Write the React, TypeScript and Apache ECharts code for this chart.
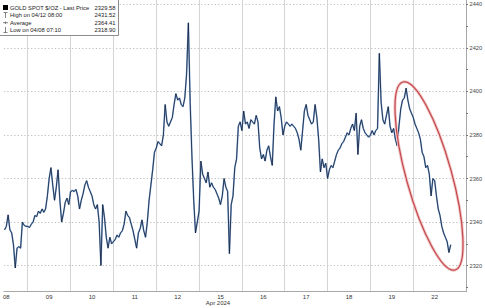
import React, { useEffect, useRef } from "react";
import * as echarts from "echarts";

// ---- data ----
const DAY_LABELS = ["08", "09", "10", "11", "12", "15", "16", "17", "18", "19", "22"];
const SAMPLES_PER_DAY = 24;
// first visible sample of each day (04/08 starts part-way into the window)
const DAY_FIRST_SAMPLE = [11, 0, 0, 0, 0, 0, 0, 0, 0, 0, 0];

const day08 = [2336.4, 2338, 2343.3, 2336.4, 2335, 2329.5, 2318.9, 2328, 2328.7, 2328, 2340, 2338.5, 2338];
const day09 = [2338, 2337.5, 2339, 2340, 2343, 2342.5, 2345, 2344, 2346, 2344.5, 2346, 2352, 2360, 2365, 2357, 2350, 2356, 2364, 2350, 2340, 2344, 2349, 2351, 2348];
const day10 = [2354, 2354.5, 2354, 2355, 2352, 2346, 2350, 2353, 2357, 2359, 2356, 2354, 2352, 2348, 2346, 2348, 2340, 2320, 2348, 2342, 2333, 2328, 2333, 2330];
const day11 = [2331, 2332, 2334, 2333, 2335, 2336, 2339, 2345, 2343, 2342, 2339, 2336, 2332, 2328, 2335, 2337, 2341, 2336, 2333, 2340, 2350, 2357, 2364, 2372];
const day12 = [2374, 2377, 2376, 2375, 2380, 2394, 2386, 2384, 2386, 2388, 2394, 2399, 2396, 2397, 2394, 2393, 2397, 2408, 2431.52, 2395, 2370, 2350, 2335, 2340];
const day15 = [2345, 2368, 2362, 2360, 2358, 2363, 2356, 2358, 2356, 2355, 2353, 2351, 2348, 2352, 2360, 2356, 2354, 2325.5, 2348, 2352, 2365, 2369, 2384, 2386];
const day16 = [2382, 2391, 2385, 2386, 2383, 2387, 2386, 2385, 2389, 2386, 2374, 2369, 2371, 2368, 2373, 2375, 2370, 2366, 2385, 2397.5, 2391, 2393, 2388, 2380];
const day17 = [2384, 2386, 2385, 2384, 2385, 2384, 2383, 2381, 2378, 2373, 2382, 2391, 2394, 2389, 2387, 2385, 2386, 2394, 2388, 2378, 2363, 2369, 2365, 2367];
const day18 = [2360, 2364, 2366, 2365, 2368, 2371, 2373, 2374, 2376, 2377, 2379, 2381, 2380, 2383, 2385, 2382, 2390, 2371, 2384, 2387, 2383, 2381, 2380, 2379];
const day19 = [2380, 2382, 2380, 2382, 2383, 2417.5, 2395, 2387, 2385, 2389, 2393, 2384, 2381, 2383, 2378, 2375, 2384, 2392, 2396, 2397, 2401.5, 2396, 2392, 2390];
const day22 = [2388, 2385, 2383, 2381, 2378, 2372, 2370, 2365, 2366, 2362, 2352, 2360, 2359, 2352, 2346, 2343, 2338, 2335, 2333, 2331, 2326, 2329.58];
const DAY_VALUES = [day08, day09, day10, day11, day12, day15, day16, day17, day18, day19, day22];

const Y_TICKS = [2310, 2320, 2330, 2340, 2350, 2360, 2370, 2380, 2390, 2400, 2410, 2420, 2430, 2440];
const Y_LABELS = [2320, 2340, 2360, 2380, 2400, 2420, 2440];
const Y_MIN = 2308;
const Y_MAX = 2442;
const X_MIN = 0.445;
const X_MAX = 11.233;

const LEGEND_LABELS = ["GOLD SPOT $/OZ - Last Price", "High on 04/12 08:00", "Average", "Low on 04/08 07:10"];
const LEGEND_VALUES = ["2329.58", "2431.52", "2364.41", "2318.90"];
const LAST_PRICE = 2329.58;
const LAST_TAG = "2329";
const AXIS_TITLE = "Apr 2024";

const FONT = "Liberation Sans";

export default function App() {
  const ref = useRef<HTMLDivElement>(null);
  useEffect(() => {
    if (!ref.current) return;
    const chart = echarts.init(ref.current, null, { renderer: "svg" });

    const data: number[][] = [];
    DAY_VALUES.forEach((vals, k) => {
      vals.forEach((v, i) => {
        data.push([k + (DAY_FIRST_SAMPLE[k] + i) / SAMPLES_PER_DAY, v]);
      });
    });

    const dayBounds = DAY_LABELS.slice(1).map((_, i) => i + 1);
    const dayCenters = DAY_LABELS.map((_, k) => k + 0.5);

    const rowY = [7.5, 15.2, 22.7, 30.2];
    const legendEls: any[] = [
      {
        type: "rect",
        z: 100,
        shape: { x: -1, y: -1, width: 119.5, height: 36.5 },
        style: { fill: "#fff", stroke: "#8c8c8c", lineWidth: 1 },
      },
      { type: "rect", z: 101, shape: { x: 3, y: 5, width: 5, height: 5 }, style: { fill: "#000" } },
      // high icon
      { type: "line", z: 101, shape: { x1: 3.5, y1: 12.5, x2: 7.5, y2: 12.5 }, style: { stroke: "#666", lineWidth: 0.8 } },
      { type: "line", z: 101, shape: { x1: 5.5, y1: 12.5, x2: 5.5, y2: 18 }, style: { stroke: "#666", lineWidth: 0.8 } },
      // average icon
      { type: "line", z: 101, shape: { x1: 3, y1: 22.7, x2: 8, y2: 22.7 }, style: { stroke: "#666", lineWidth: 0.8 } },
      { type: "line", z: 101, shape: { x1: 5.5, y1: 21.5, x2: 5.5, y2: 24 }, style: { stroke: "#666", lineWidth: 0.8 } },
      // low icon
      { type: "line", z: 101, shape: { x1: 5.5, y1: 27, x2: 5.5, y2: 32.5 }, style: { stroke: "#666", lineWidth: 0.8 } },
      { type: "line", z: 101, shape: { x1: 3.5, y1: 32.5, x2: 7.5, y2: 32.5 }, style: { stroke: "#666", lineWidth: 0.8 } },
    ];
    LEGEND_LABELS.forEach((t, i) => {
      legendEls.push({
        type: "text",
        z: 101,
        x: 10,
        y: rowY[i],
        style: {
          text: t,
          fontSize: 5.8,
          fontFamily: FONT,
          fill: "#1a1a1a",
          align: "left",
          textAlign: "left",
          verticalAlign: "middle",
          textVerticalAlign: "middle",
        },
      });
      legendEls.push({
        type: "text",
        z: 101,
        x: 115.5,
        y: rowY[i],
        style: {
          text: LEGEND_VALUES[i],
          fontSize: 5.8,
          fontFamily: FONT,
          fill: "#1a1a1a",
          align: "right",
          textAlign: "right",
          verticalAlign: "middle",
          textVerticalAlign: "middle",
        },
      });
    });

    chart.setOption({
      animation: false,
      backgroundColor: "#ffffff",
      grid: { left: 0, right: 18.3, top: 0, bottom: 16.3 },
      xAxis: {
        type: "value",
        min: X_MIN,
        max: X_MAX,
        axisLine: { show: true, lineStyle: { color: "#a8a8a8", width: 1 } },
        axisTick: { show: false, customValues: dayBounds },
        splitLine: { show: true, lineStyle: { color: "#d4d4d4", width: 1 } },
        axisLabel: {
          customValues: dayCenters,
          formatter: (v: number) => DAY_LABELS[Math.floor(v)] ?? "",
          fontSize: 6,
          fontFamily: FONT,
          color: "#333",
          margin: 2,
        },
      },
      yAxis: [
        {
          type: "value",
          position: "right",
          min: Y_MIN,
          max: Y_MAX,
          axisLine: { show: true, lineStyle: { color: "#a8a8a8", width: 1 } },
          axisTick: { show: true, customValues: Y_TICKS, length: 2, lineStyle: { color: "#777" } },
          axisLabel: {
            customValues: Y_LABELS,
            formatter: (v: number) => String(v),
            fontSize: 5.6,
            fontFamily: FONT,
            color: "#444",
            margin: 3.5,
          },
          splitLine: { show: false },
        },
        {
          type: "value",
          position: "right",
          min: Y_MIN,
          max: Y_MAX,
          axisLine: { show: false },
          axisTick: { show: false, customValues: Y_LABELS },
          axisLabel: { show: false },
          splitLine: { show: true, lineStyle: { color: "#bcbcbc", type: [1.2, 2.2], width: 1 } },
        },
      ],
      series: [
        {
          type: "line",
          data,
          showSymbol: false,
          silent: true,
          lineStyle: { color: "#5a8fd0", width: 1.6, opacity: 0.75 },
          z: 2,
        },
        {
          type: "line",
          data,
          showSymbol: false,
          silent: true,
          lineStyle: { color: "#101c33", width: 0.8 },
          z: 3,
          markLine: {
            silent: true,
            symbol: "none",
            data: [{ yAxis: LAST_PRICE }],
            lineStyle: { opacity: 0 },
            label: {
              position: "end",
              formatter: LAST_TAG,
              distance: 1.5,
              backgroundColor: "#161616",
              color: "#fff",
              fontSize: 6,
              fontFamily: FONT,
              padding: [1.5, 2, 1, 2],
              borderRadius: 1,
            },
          },
        },
      ],
      graphic: [
        ...legendEls,
        {
          type: "ellipse",
          z: 90,
          x: 429,
          y: 176,
          rotation: 0.27,
          shape: { cx: 0, cy: 0, rx: 22.7, ry: 97.5 },
          style: { fill: "none", stroke: "#f0c4c4", lineWidth: 3 },
        },
        {
          type: "ellipse",
          z: 91,
          x: 429,
          y: 176,
          rotation: 0.27,
          shape: { cx: 0, cy: 0, rx: 22.7, ry: 97.5 },
          style: { fill: "none", stroke: "#c4474b", lineWidth: 1.2 },
        },
        {
          type: "text",
          z: 50,
          x: 218,
          y: 302.5,
          style: {
            text: AXIS_TITLE,
            fontSize: 6,
            fontFamily: FONT,
            fill: "#333",
            align: "center",
            textAlign: "center",
            verticalAlign: "middle",
            textVerticalAlign: "middle",
          },
        },
      ],
    });
    return () => chart.dispose();
  }, []);
  return (
    <div
      ref={ref}
      style={{ position: "fixed", left: 0, top: 0, width: 485, height: 308, background: "#fff" }}
    />
  );
}
